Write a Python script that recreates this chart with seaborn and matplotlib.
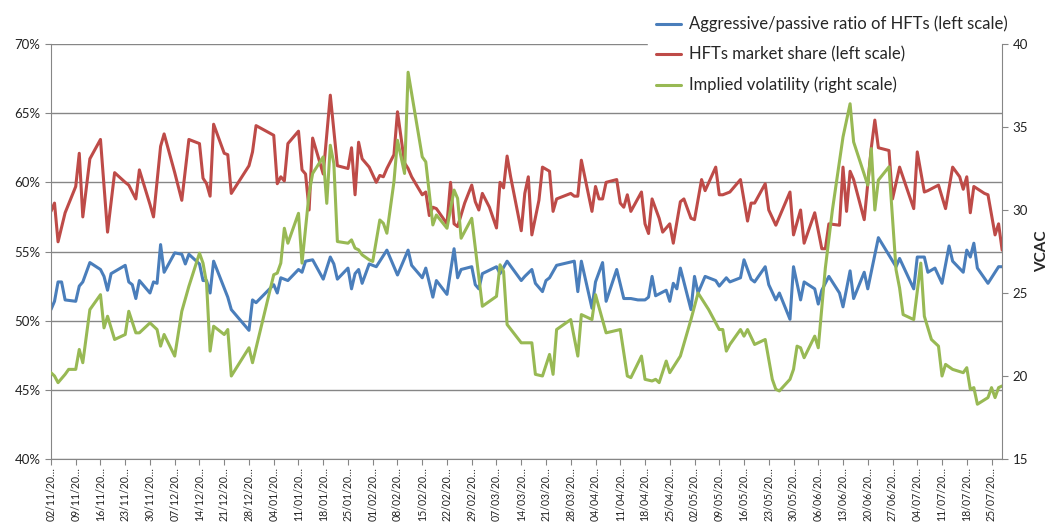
import pandas as pd
import matplotlib
matplotlib.use("Agg")
import matplotlib.pyplot as plt
import seaborn as sns

start = pd.Timestamp("2011-11-02")

# day offsets from start / values
ratio_days = [0, 1, 2, 3, 4, 7, 8, 9, 11, 14,
              15, 16, 17, 21, 22, 23, 24, 25, 28, 29,
              30, 31, 32, 35, 37, 38, 39, 42, 43, 44,
              45, 46, 50, 51, 56, 57, 58, 63, 64, 65,
              67, 70, 71, 72, 74, 77, 79, 80, 81, 84,
              85, 86, 87, 88, 90, 92, 95, 98, 101, 102,
              105, 106, 108, 109, 112, 114, 115, 116, 119, 120,
              121, 122, 126, 127, 129, 133, 134, 136, 137, 139,
              140, 141, 143, 148, 149, 150, 153, 154, 156, 157,
              160, 162, 164, 166, 168, 169, 170, 171, 174, 175,
              176, 177, 178, 181, 182, 183, 185, 188, 189, 191,
              192, 195, 196, 198, 199, 202, 203, 205, 206, 209,
              210, 212, 213, 216, 217, 218, 220, 223, 224, 226,
              227, 230, 231, 234, 239, 240, 244, 245, 247, 248,
              250, 252, 254, 255, 258, 259, 260, 261, 262, 265,
              268, 269]
ratio_vals = [50.8, 51.4, 52.8, 52.8, 51.5, 51.4, 52.5, 52.8, 54.2, 53.7,
              53.2, 52.2, 53.4, 54.0, 52.8, 52.6, 51.6, 52.9, 52.0, 52.8,
              52.7, 55.5, 53.5, 54.9, 54.8, 54.1, 54.8, 54.1, 52.9, 52.9,
              52.0, 54.3, 51.7, 50.8, 49.3, 51.5, 51.3, 52.6, 52.0, 53.1,
              52.9, 53.7, 53.5, 54.3, 54.4, 53.0, 54.6, 54.1, 53.0, 53.8,
              52.3, 53.4, 53.7, 52.7, 54.1, 53.9, 55.1, 53.3, 55.1, 54.0,
              53.1, 53.8, 51.7, 52.9, 51.9, 55.2, 53.1, 53.7, 53.9, 52.6,
              52.3, 53.4, 53.9, 53.4, 54.3, 52.9, 53.2, 53.7, 52.7, 52.1,
              52.9, 53.1, 54.0, 54.3, 52.1, 54.3, 50.9, 52.8, 54.2, 51.4,
              53.7, 51.6, 51.6, 51.5, 51.5, 51.7, 53.2, 51.8, 52.2, 51.4,
              52.7, 52.3, 53.8, 50.8, 53.2, 52.0, 53.2, 52.9, 52.5, 53.1,
              52.8, 53.1, 54.4, 53.0, 52.8, 53.9, 52.6, 51.5, 52.0, 50.1,
              53.9, 51.5, 52.8, 52.3, 51.2, 52.2, 53.2, 52.0, 51.0, 53.6,
              51.6, 53.5, 52.3, 56.0, 53.9, 54.5, 52.3, 54.6, 54.6, 53.5,
              53.8, 52.7, 55.4, 54.3, 53.5, 55.1, 54.6, 55.6, 53.8, 52.7,
              53.9, 53.9]

share_days = [0, 1, 2, 4, 7, 8, 9, 11, 14, 16,
              18, 21, 22, 24, 25, 28, 29, 31, 32, 35,
              37, 39, 42, 43, 44, 45, 46, 49, 50, 51,
              56, 57, 58, 63, 64, 65, 66, 67, 70, 71,
              72, 73, 74, 77, 79, 81, 84, 85, 86, 87,
              88, 90, 92, 93, 94, 95, 97, 98, 100, 101,
              102, 105, 106, 107, 108, 109, 112, 113, 114, 115,
              117, 119, 120, 121, 122, 124, 126, 127, 128, 129,
              130, 133, 134, 135, 136, 138, 139, 141, 142, 143,
              147, 148, 149, 150, 153, 154, 155, 156, 157, 160,
              161, 162, 163, 164, 167, 168, 169, 170, 172, 173,
              175, 176, 178, 179, 181, 182, 184, 185, 188, 189,
              190, 192, 195, 197, 198, 199, 202, 203, 205, 209,
              210, 212, 213, 216, 218, 219, 220, 223, 224, 225,
              226, 227, 230, 232, 233, 234, 237, 238, 240, 244,
              245, 247, 248, 251, 253, 255, 257, 258, 259, 260,
              261, 264, 265, 267, 268, 269]
share_vals = [57.9, 58.5, 55.7, 57.8, 59.7, 62.1, 57.5, 61.7, 63.1, 56.4,
              60.7, 60.0, 59.8, 58.8, 60.9, 58.4, 57.5, 62.6, 63.5, 60.7,
              58.7, 63.1, 62.8, 60.3, 59.9, 59.0, 64.2, 62.1, 62.0, 59.2,
              61.2, 62.2, 64.1, 63.4, 59.9, 60.4, 60.1, 62.8, 63.7, 60.9,
              60.6, 58.0, 63.2, 60.6, 66.3, 61.2, 61.0, 62.5, 59.1, 62.9,
              61.7, 61.1, 60.0, 60.5, 60.4, 61.0, 62.0, 65.1, 61.4, 61.0,
              60.4, 59.1, 59.3, 57.6, 58.2, 58.1, 57.0, 60.0, 57.0, 56.8,
              58.5, 59.8, 58.6, 58.0, 59.2, 58.2, 56.7, 60.0, 59.6, 61.9,
              60.4, 56.5, 59.2, 60.4, 56.2, 58.7, 61.1, 60.8, 57.9, 58.8,
              59.2, 59.0, 59.0, 61.6, 57.9, 59.7, 58.8, 58.8, 60.0, 60.2,
              58.5, 58.2, 59.1, 57.9, 59.3, 57.0, 56.3, 58.8, 57.4, 56.4,
              57.0, 55.6, 58.6, 58.8, 57.4, 57.3, 60.2, 59.4, 61.1, 59.1,
              59.1, 59.3, 60.2, 57.2, 58.5, 58.5, 59.9, 58.0, 56.9, 59.3,
              56.2, 58.0, 55.6, 57.8, 55.2, 55.2, 57.0, 56.9, 61.1, 57.9,
              60.8, 60.2, 57.3, 62.5, 64.5, 62.5, 62.3, 58.8, 61.1, 58.1,
              62.2, 59.3, 59.4, 59.8, 58.1, 61.1, 60.4, 59.5, 60.4, 57.8,
              59.7, 59.2, 59.1, 56.2, 57.0, 55.1]

vol_days = [0, 1, 2, 4, 5, 7, 8, 9, 11, 14,
            15, 16, 18, 21, 22, 24, 25, 28, 30, 31,
            32, 35, 37, 39, 42, 43, 44, 45, 46, 49,
            50, 51, 56, 57, 63, 64, 65, 66, 67, 70,
            71, 73, 74, 77, 78, 79, 80, 81, 84, 85,
            86, 87, 88, 90, 91, 93, 94, 95, 97, 98,
            100, 101, 105, 106, 108, 109, 112, 114, 115, 116,
            119, 122, 126, 127, 128, 129, 133, 136, 137, 139,
            141, 142, 143, 147, 149, 150, 153, 154, 157, 161,
            163, 164, 167, 168, 170, 171, 172, 174, 175, 178,
            181, 183, 186, 188, 189, 190, 191, 192, 195, 196,
            197, 199, 202, 204, 205, 206, 209, 210, 211, 212,
            213, 216, 217, 218, 219, 221, 224, 226, 227, 231,
            232, 233, 234, 237, 239, 240, 241, 244, 246, 247,
            249, 251, 252, 253, 255, 258, 259, 260, 261, 262,
            265, 266, 267, 268, 269]
vol_vals = [20.2, 20.0, 19.6, 20.1, 20.4, 20.4, 21.6, 20.8, 24.0, 24.9,
            22.9, 23.6, 22.2, 22.5, 23.9, 22.6, 22.6, 23.2, 22.8, 21.8,
            22.5, 21.2, 23.9, 25.4, 27.4, 26.8, 25.6, 21.5, 23.0, 22.5,
            22.8, 20.0, 21.7, 20.8, 26.1, 26.2, 26.8, 28.9, 28.0, 29.8,
            26.8, 31.0, 32.2, 33.2, 30.4, 33.9, 32.8, 28.1, 28.0, 28.2,
            27.7, 27.6, 27.3, 27.0, 26.9, 29.4, 29.2, 28.6, 31.7, 34.2,
            32.2, 38.3, 33.2, 32.9, 29.1, 29.7, 28.9, 31.2, 30.7, 28.3,
            29.5, 24.2, 24.8, 26.7, 26.3, 23.1, 22.0, 22.0, 20.1, 20.0,
            21.3, 20.1, 22.8, 23.4, 21.2, 23.7, 23.4, 24.9, 22.6, 22.8,
            20.0, 19.9, 21.2, 19.8, 19.7, 19.8, 19.6, 20.9, 20.2, 21.2,
            23.4, 25.0, 24.0, 23.2, 22.8, 22.8, 21.5, 21.9, 22.8, 22.4,
            22.8, 21.9, 22.2, 19.8, 19.2, 19.1, 19.8, 20.4, 21.8, 21.7,
            21.1, 22.4, 21.7, 24.1, 26.5, 30.0, 34.4, 36.4, 34.1, 31.5,
            33.7, 30.0, 31.8, 32.6, 26.4, 25.3, 23.7, 23.4, 26.8, 23.6,
            22.2, 21.8, 20.0, 20.7, 20.4, 20.2, 20.5, 19.2, 19.3, 18.3,
            18.7, 19.3, 18.7, 19.3, 19.4]

left_ticks = [40, 45, 50, 55, 60, 65, 70]
right_ticks = [15, 20, 25, 30, 35, 40]
labels = ["Aggressive/passive ratio of HFTs (left scale)",
          "HFTs market share (left scale)",
          "Implied volatility (right scale)"]
colors = ["#4A7EBB", "#BE4B48", "#98B954"]


def frame(days, vals):
    return pd.DataFrame({"date": start + pd.to_timedelta(days, unit="D"),
                         "value": vals})


sns.set_style("white")
plt.rcParams["font.family"] = ["Lato", "DejaVu Sans"]
grey = "#868686"

fig = plt.figure(figsize=(10.51, 5.25), dpi=100)
ax = fig.add_axes([0.0485, 0.1257, 0.905, 0.7905])
ax2 = ax.twinx()

sns.lineplot(data=frame(ratio_days, ratio_vals), x="date", y="value", ax=ax,
             color=colors[0], lw=2.2, label=labels[0])
sns.lineplot(data=frame(share_days, share_vals), x="date", y="value", ax=ax,
             color=colors[1], lw=2.2, label=labels[1])
sns.lineplot(data=frame(vol_days, vol_vals), x="date", y="value", ax=ax2,
             color=colors[2], lw=2.2, label=labels[2])

ax.set_xlim(start, start + pd.Timedelta(days=269))
ax.set_ylim(40, 70)
ax2.set_ylim(15, 40)

ax.set_yticks(left_ticks)
ax.set_yticklabels([f"{t}%" for t in left_ticks])
ax2.set_yticks(right_ticks)

week_ticks = [start + pd.Timedelta(days=7 * k) for k in range(39)]
ax.set_xticks(week_ticks)
ax.set_xticklabels([d.strftime("%d/%m/") + "20\u2026" for d in week_ticks],
                   rotation=90, fontsize=7.6, color="#222222")

ax.grid(axis="y", color=grey, lw=1)
ax.grid(axis="x", visible=False)
ax.set_xlabel("")
ax.set_ylabel("")
ax2.set_ylabel("VCAC", fontsize=11, fontweight="bold", labelpad=5)

for a in (ax, ax2):
    a.spines["top"].set_visible(False)
    for s in ("left", "right", "bottom"):
        a.spines[s].set_color(grey)
ax.spines["right"].set_visible(False)
ax2.spines["left"].set_visible(False)
ax2.spines["bottom"].set_visible(False)

ax.tick_params(axis="y", direction="out", length=4, color=grey,
               labelsize=9.5, labelcolor="#222222", left=True)
ax.tick_params(axis="x", direction="out", length=4, color=grey, bottom=True,
               pad=2)
ax2.tick_params(axis="y", direction="out", length=4, color=grey,
                labelsize=9.5, labelcolor="#222222", right=True)

h1, l1 = ax.get_legend_handles_labels()
h2, l2 = ax2.get_legend_handles_labels()
if ax2.get_legend() is not None:
    ax2.get_legend().remove()
leg = ax.legend(h1 + h2, l1 + l2, loc="upper left",
                bbox_to_anchor=(640 / 1051, 1.0), bbox_transform=fig.transFigure,
                frameon=True, facecolor="white", edgecolor="white", framealpha=1,
                fontsize=12, handlelength=1.5, labelspacing=0.85,
                borderpad=0.45, handletextpad=0.5)
for line in leg.get_lines():
    line.set_linewidth(2.2)

fig.savefig("out.png", dpi=100)
